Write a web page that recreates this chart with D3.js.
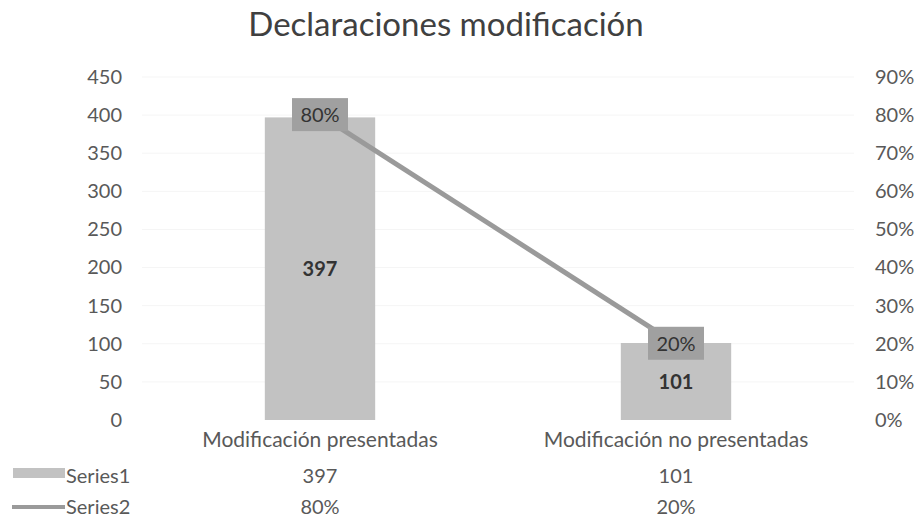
<!DOCTYPE html>
<html>
<head>
<meta charset="utf-8">
<script src="https://cdn.jsdelivr.net/npm/d3@7"></script>
<style>
  body { margin: 0; background: #fff; }
  svg text { font-family: Lato, "Open Sans", sans-serif; fill: #595959; }
</style>
</head>
<body>
<div id="chart"></div>
<script>
const categories = ['Modificación presentadas', 'Modificación no presentadas'];
const series1 = [397, 101];
const series2 = [0.80, 0.20];
const leftTicks = [0, 50, 100, 150, 200, 250, 300, 350, 400, 450];
const rightTicks = [0, 0.1, 0.2, 0.3, 0.4, 0.5, 0.6, 0.7, 0.8, 0.9];
const seriesNames = ['Series1', 'Series2'];

const width = 917, height = 520;
const fs = '20px';
const svg = d3.select('#chart').append('svg')
  .attr('width', width).attr('height', height);

const x = d3.scaleBand().domain(categories).range([142, 854]).paddingInner(0).paddingOuter(0);
const yL = d3.scaleLinear().domain([0, 450]).range([420, 77]);
const yR = d3.scaleLinear().domain([0, 0.9]).range([420, 77]);
const pct = d3.format('.0%');

svg.append('text')
  .attr('x', 446).attr('y', 36)
  .attr('text-anchor', 'middle')
  .style('font-size', '33px').style('fill', '#404040')
  .text('Declaraciones modificación');

// faint gridlines
svg.append('g').selectAll('line')
  .data(leftTicks.slice(1))
  .enter().append('line')
  .attr('x1', 142).attr('x2', 854)
  .attr('y1', d => yL(d)).attr('y2', d => yL(d))
  .attr('stroke', '#f5f5f5').attr('stroke-width', 1);

// left axis
const axL = svg.append('g').attr('transform', 'translate(122,0)')
  .call(d3.axisLeft(yL).tickValues(leftTicks).tickSize(0).tickPadding(0));
axL.select('.domain').remove();
axL.selectAll('text').style('font-size', fs).style('fill', '#595959').attr('font-family', null);

// right axis
const axR = svg.append('g').attr('transform', 'translate(875,0)')
  .call(d3.axisRight(yR).tickValues(rightTicks).tickFormat(pct).tickSize(0).tickPadding(0));
axR.select('.domain').remove();
axR.selectAll('text').style('font-size', fs).style('fill', '#595959').attr('font-family', null);

// bars
const bw = x.bandwidth() * 0.31;
svg.append('g').selectAll('rect')
  .data(series1)
  .enter().append('rect')
  .attr('x', (d, i) => x(categories[i]) + x.bandwidth() / 2 - bw / 2)
  .attr('y', d => yL(d))
  .attr('width', bw)
  .attr('height', d => yL(0) - yL(d))
  .attr('fill', '#c2c2c2');

// bar labels
svg.append('g').selectAll('text')
  .data(series1)
  .enter().append('text')
  .attr('x', (d, i) => x(categories[i]) + x.bandwidth() / 2)
  .attr('y', d => (yL(d) + yL(0)) / 2 + 7)
  .attr('text-anchor', 'middle')
  .style('font-size', fs).style('font-weight', 'bold').style('fill', '#333')
  .text(d => d);

// line
const line = d3.line()
  .x((d, i) => x(categories[i]) + x.bandwidth() / 2)
  .y(d => yR(d));
svg.append('path')
  .datum(series2)
  .attr('d', line)
  .attr('fill', 'none')
  .attr('stroke', '#9a9a9a')
  .attr('stroke-width', 5);

// line labels
const lab = svg.append('g').selectAll('g')
  .data(series2)
  .enter().append('g')
  .attr('transform', (d, i) => `translate(${x(categories[i]) + x.bandwidth() / 2},${yR(d)})`);
lab.append('rect')
  .attr('x', -28).attr('y', -17).attr('width', 56).attr('height', 33)
  .attr('fill', '#a0a0a0');
lab.append('text')
  .attr('text-anchor', 'middle').attr('y', 7)
  .style('font-size', fs).style('fill', '#333')
  .text(d => pct(d));

// category labels
svg.append('g').selectAll('text')
  .data(categories)
  .enter().append('text')
  .attr('x', d => x(d) + x.bandwidth() / 2)
  .attr('y', 447)
  .attr('text-anchor', 'middle')
  .style('font-size', '21px')
  .text(d => d);

// data table
const rows = [series1.map(String), series2.map(pct)];
const rowY = [483, 514];
rows.forEach((vals, r) => {
  svg.selectAll(null)
    .data(vals)
    .enter().append('text')
    .attr('x', (d, i) => x(categories[i]) + x.bandwidth() / 2)
    .attr('y', rowY[r])
    .attr('text-anchor', 'middle')
    .style('font-size', fs)
    .text(d => d);
  svg.append('text')
    .attr('x', 66).attr('y', rowY[r])
    .style('font-size', fs)
    .text(seriesNames[r]);
});
svg.append('rect').attr('x', 13).attr('y', 468).attr('width', 52).attr('height', 10).attr('fill', '#c2c2c2');
svg.append('line').attr('x1', 12).attr('x2', 65).attr('y1', 507).attr('y2', 507)
  .attr('stroke', '#9a9a9a').attr('stroke-width', 4);
</script>
</body>
</html>
